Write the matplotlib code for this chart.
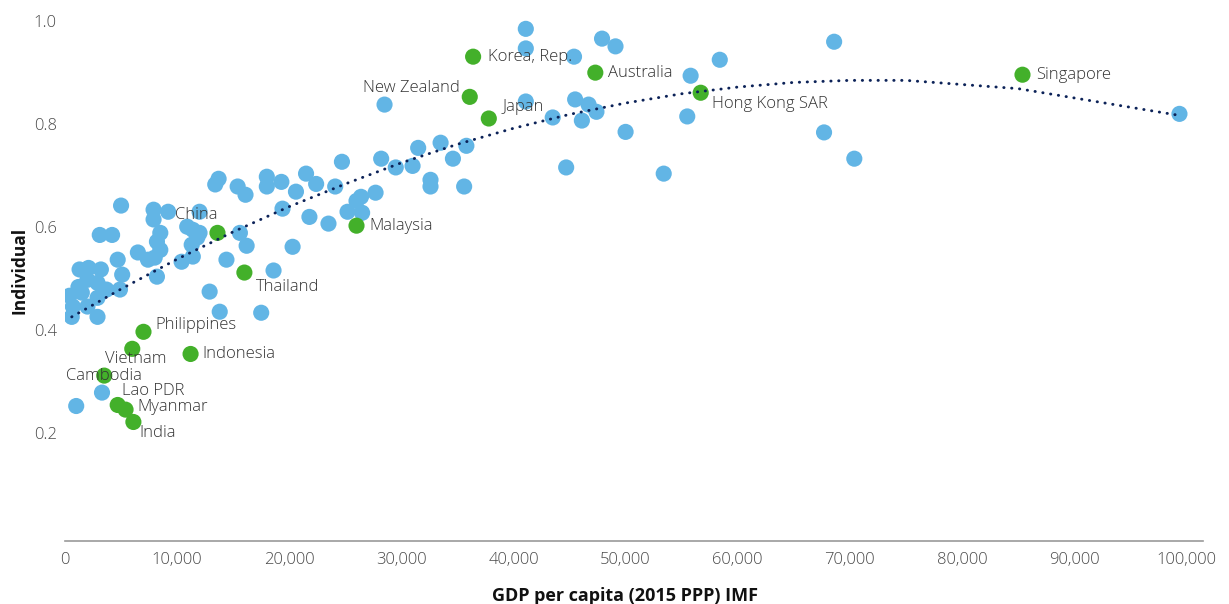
import matplotlib
matplotlib.use("Agg")
import matplotlib.pyplot as plt
from matplotlib.ticker import FuncFormatter

plt.rcParams['font.family'] = ['Open Sans', 'DejaVu Sans']

# --- data (GDP per capita, Individual score) ---
other_gdp = [400, 700, 600, 1300, 2100, 3200, 1200, 2000, 2900, 3700, 2900, 2000, 2900, 1500,
             3100, 4200, 5000, 4700, 5100, 4900, 1000, 3300,
             7900, 9200, 7900, 12000, 10900, 11400, 12000, 11800, 11300, 8500, 8200, 8500, 7400,
             6500, 8000, 10400, 11400, 8200, 12900, 13800, 17500, 18600, 15600, 16200, 14400,
             20300, 13400, 13700, 15400, 16100, 18000, 18000, 19300, 20600, 19400,
             21500, 22400, 24100, 24700, 21800, 23500, 25200, 26500, 26000, 26400, 27700, 28200,
             28500, 29500, 31000, 31500, 33500, 35800, 34600, 32600, 32600, 35600,
             41100, 41100, 45400, 47900, 49100, 55800, 58400, 68600, 41100, 45500, 46700, 47400,
             43500, 46100, 50000, 55500, 67700, 70400, 44700, 53400, 99400]
other_ind = [0.466, 0.445, 0.425, 0.517, 0.520, 0.517, 0.483, 0.497, 0.491, 0.478, 0.462, 0.445, 0.425, 0.472,
             0.584, 0.584, 0.641, 0.536, 0.507, 0.478, 0.252, 0.278,
             0.633, 0.629, 0.614, 0.629, 0.600, 0.594, 0.588, 0.579, 0.565, 0.588, 0.571, 0.555, 0.536,
             0.550, 0.540, 0.532, 0.542, 0.503, 0.474, 0.435, 0.433, 0.515, 0.588, 0.563, 0.536,
             0.561, 0.682, 0.693, 0.678, 0.662, 0.697, 0.678, 0.687, 0.668, 0.635,
             0.703, 0.683, 0.678, 0.726, 0.619, 0.606, 0.629, 0.627, 0.650, 0.658, 0.666, 0.732,
             0.837, 0.715, 0.718, 0.753, 0.763, 0.757, 0.732, 0.691, 0.678, 0.678,
             0.984, 0.946, 0.930, 0.965, 0.950, 0.893, 0.924, 0.959, 0.843, 0.847, 0.837, 0.823,
             0.812, 0.806, 0.784, 0.814, 0.783, 0.732, 0.715, 0.703, 0.819]

asia_names = ['Singapore', 'Hong Kong SAR', 'Australia', 'Korea, Rep.', 'New Zealand', 'Japan',
              'Malaysia', 'China', 'Thailand', 'Philippines', 'Indonesia', 'Vietnam', 'Cambodia',
              'Lao PDR', 'Myanmar', 'India']
asia_gdp = [85400, 56700, 47300, 36400, 36100, 37800, 26000, 13600, 16000, 7000, 11200, 6000,
            3500, 4700, 5400, 6100]
asia_ind = [0.895, 0.860, 0.899, 0.930, 0.852, 0.810, 0.602, 0.588, 0.511, 0.396, 0.353, 0.363,
            0.311, 0.254, 0.245, 0.221]

# trend line
trend_gdp = [600, 5000, 10000, 15000, 20000, 25000, 30000, 35000, 40000, 45000, 50000, 55000,
             60000, 65000, 70000, 75000, 85000, 99400]
trend_ind = [0.425, 0.479, 0.537, 0.590, 0.639, 0.683, 0.724, 0.760, 0.791, 0.818, 0.840, 0.858,
             0.871, 0.880, 0.884, 0.884, 0.868, 0.816]

# label placement (pixel offset, horizontal alignment)
label_pos = {
    'Singapore': (14, 0, 'left'), 'Hong Kong SAR': (11, -11, 'left'), 'Australia': (13, 0, 'left'),
    'Korea, Rep.': (15, 0, 'left'), 'New Zealand': (-10, 9, 'right'), 'Japan': (14, 12, 'left'),
    'Malaysia': (13, 0, 'left'), 'China': (0, 18, 'right'), 'Thailand': (12, -14, 'left'),
    'Philippines': (12, 7, 'left'), 'Indonesia': (12, 0, 'left'), 'Vietnam': (3, -10, 'center'),
    'Cambodia': (0, 0, 'center'), 'Lao PDR': (4, 14, 'left'), 'Myanmar': (12, 3, 'left'),
    'India': (6, -11, 'left'),
}

BLUE = '#62b5e5'
GREEN = '#43b02a'
NAVY = '#0c2258'
TXT = '#333333'

fig = plt.figure(figsize=(12.29, 6.04), dpi=100)
ax = fig.add_axes([65 / 1229, 63 / 604, 1138 / 1229, 541 / 604])

ax.scatter(other_gdp, other_ind, s=135, color=BLUE, edgecolors='none', zorder=2)
ax.scatter(asia_gdp, asia_ind, s=135, color=GREEN, edgecolors='none', zorder=3)
ax.plot(trend_gdp, trend_ind, color=NAVY, lw=2.1, linestyle=(0, (0.1, 2.6)),
        dash_capstyle='round', zorder=4)

for name, gx, gy in zip(asia_names, asia_gdp, asia_ind):
    dx, dy, ha = label_pos[name]
    ax.annotate(name, (gx, gy), xytext=(dx, dy), textcoords='offset pixels',
                ha=ha, va='center', fontsize=12, color=TXT, fontweight='light', zorder=5)

ax.set_xlim(0, 101500)
ax.set_ylim(-0.01, 1.04)
ax.set_xticks(range(0, 100001, 10000))
ax.set_yticks([0.2, 0.4, 0.6, 0.8, 1.0])
ax.xaxis.set_major_formatter(FuncFormatter(lambda v, p: f'{v:,.0f}'))
ax.yaxis.set_major_formatter(FuncFormatter(lambda v, p: f'{v:.1f}'))
ax.tick_params(length=0, labelsize=12, labelcolor='#4a4a4a')
ax.tick_params(axis='x', pad=8)
ax.tick_params(axis='y', pad=6)
for lab in ax.get_xticklabels() + ax.get_yticklabels():
    lab.set_fontweight('light')

for side in ['top', 'right', 'left']:
    ax.spines[side].set_visible(False)
ax.spines['bottom'].set_color('#9a9a9a')
ax.spines['bottom'].set_linewidth(1.2)

ax.set_xlabel('GDP per capita (2015 PPP) IMF', fontsize=13, fontweight='bold', color='#111111')
ax.xaxis.set_label_coords(0.492, -0.085)
ax.set_ylabel('Individual', fontsize=12.5, fontweight='bold', color='#111111')
ax.yaxis.set_label_coords(-0.032, 0.5)

fig.savefig('out.png', dpi=100)
